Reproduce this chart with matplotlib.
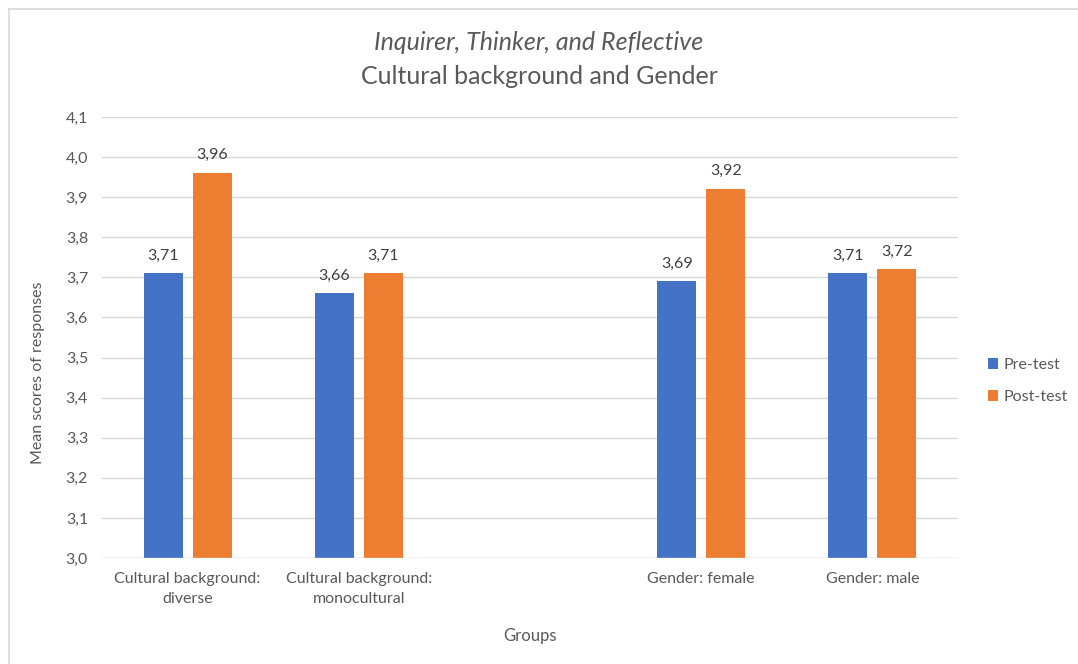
import matplotlib
matplotlib.use("Agg")
import matplotlib.pyplot as plt
import numpy as np
from matplotlib.lines import Line2D

categories = ["Cultural background:\ndiverse", "Cultural background:\nmonocultural", "", "Gender: female", "Gender: male"]
pre_test = [3.71, 3.66, None, 3.69, 3.71]
post_test = [3.96, 3.71, None, 3.92, 3.72]
series_names = ["Pre-test", "Post-test"]
yticks = [3.0, 3.1, 3.2, 3.3, 3.4, 3.5, 3.6, 3.7, 3.8, 3.9, 4.0, 4.1]

plt.rcParams['font.family'] = ['Lato', 'DejaVu Sans']
txt = '#595959'
blue = '#4472C4'
orange = '#ED7D31'

fig = plt.figure(figsize=(10.78, 6.64), dpi=100)
ax = fig.add_axes([0.0946, 0.1596, 0.8887 - 0.0946, 0.8238 - 0.1596])

x = np.arange(len(categories))
w = 0.228
off = 0.143
for vals, dx, col, name in [(pre_test, -off, blue, series_names[0]), (post_test, off, orange, series_names[1])]:
    xs = [xi + dx for xi, v in zip(x, vals) if v is not None]
    vs = [v for v in vals if v is not None]
    ax.bar(xs, [v - 3.0 for v in vs], bottom=3.0, width=w, color=col, label=name, zorder=3)
    for xi, v in zip(xs, vs):
        ax.text(xi, v + 0.027, f"{v:.2f}".replace('.', ','), ha='center', va='bottom', fontsize=11.5, color='#404040')

ax.set_xlim(-0.5, len(categories) - 0.5)
ax.set_ylim(3.0, 4.1)
ax.set_yticks(yticks)
ax.set_yticklabels([f"{t:.1f}".replace('.', ',') for t in yticks], fontsize=11.5, color=txt)
ax.set_xticks(x)
ax.set_xticklabels(categories, fontsize=11.5, color=txt, linespacing=1.55)
ax.tick_params(axis='y', length=0, pad=10)
ax.tick_params(axis='x', length=0, pad=10)
ax.grid(axis='y', color='#D9D9D9', linewidth=1, zorder=0)
for s in ax.spines.values():
    s.set_visible(False)
ax.axhline(3.0, color='#D9D9D9', linewidth=1, zorder=4)

ax.set_xlabel("Groups", fontsize=12, color=txt, labelpad=16)
ax.set_ylabel("Mean scores of responses", fontsize=11.5, color=txt)
ax.yaxis.set_label_coords(-0.066, 0.42)

fig.text(0.5, 1 - 42 / 664, "Inquirer, Thinker, and Reflective", ha='center', va='center', fontsize=18, style='italic', color=txt)
fig.text(0.5, 1 - 76 / 664, "Cultural background and Gender", ha='center', va='center', fontsize=18, color=txt)

fig.legend(loc='center left', bbox_to_anchor=(988 / 1078, 1 - 381 / 664), frameon=False, fontsize=11.5,
           borderpad=0, borderaxespad=0,
           handlelength=0.65, handleheight=0.65, handletextpad=0.3, labelspacing=1.1, labelcolor=txt)

fig.add_artist(Line2D([8.5 / 1078, 8.5 / 1078], [0, 1 - 9 / 664], transform=fig.transFigure, color='#D9D9D9', linewidth=1.2))
fig.add_artist(Line2D([8.5 / 1078, 1], [1 - 9 / 664, 1 - 9 / 664], transform=fig.transFigure, color='#D9D9D9', linewidth=1.2))

fig.savefig("out.png", dpi=100)
